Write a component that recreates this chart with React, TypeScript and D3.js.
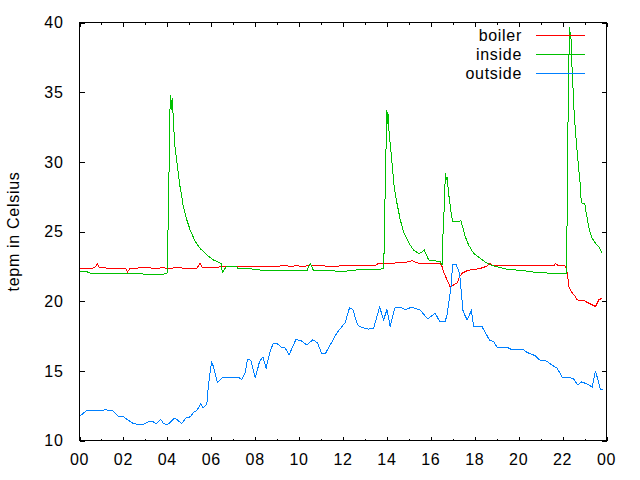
import React from 'react';
import * as d3 from 'd3';

// ---- data (hours of day, temperature in Celsius) ----
const boilerHours = [0, 0.1, 0.6, 0.75, 0.81, 0.9, 1.5, 2.0, 2.1, 2.18, 2.3, 3.0, 3.5, 3.8, 4.0, 4.5, 4.8, 5.35, 5.49, 5.6, 6.25, 6.4, 8.68, 9.44, 9.6, 9.9, 10.2, 10.51, 10.7, 11.0, 11.5, 12.0, 13.47, 13.62, 14.2, 14.9, 15.14, 15.3, 15.44, 16.43, 16.51, 16.58, 16.74, 16.89, 17.04, 17.19, 17.31, 17.42, 17.65, 17.95, 18.18, 18.41, 18.56, 18.68, 18.8, 21.6, 21.67, 21.82, 22.1, 22.17, 22.23, 22.28, 22.43, 22.58, 22.66, 22.96, 23.19, 23.5, 23.65, 23.8];
const boilerTemps = [22.36, 22.33, 22.36, 22.5, 22.72, 22.4, 22.36, 22.33, 22.36, 22.08, 22.36, 22.4, 22.36, 22.4, 22.36, 22.4, 22.36, 22.36, 22.72, 22.4, 22.4, 22.48, 22.48, 22.55, 22.48, 22.55, 22.48, 22.6, 22.55, 22.55, 22.48, 22.55, 22.55, 22.72, 22.72, 22.8, 22.91, 22.8, 22.72, 22.72, 22.48, 22.12, 21.52, 21.0, 21.17, 21.29, 21.76, 22.0, 22.19, 22.29, 22.32, 22.43, 22.53, 22.72, 22.53, 22.53, 22.72, 22.53, 22.53, 22.36, 21.88, 21.05, 20.62, 20.33, 20.09, 20.05, 19.86, 19.62, 20.09, 20.21];

const insideHours = [0, 0.33, 0.5, 3.8, 3.95, 4.0, 4.02, 4.07, 4.1, 4.14, 4.17, 4.2, 4.23, 4.28, 4.35, 4.43, 4.5, 4.58, 4.66, 4.73, 4.89, 5.04, 5.26, 5.49, 5.8, 6.1, 6.36, 6.45, 6.51, 6.68, 7.16, 7.2, 7.77, 8.15, 9.75, 10.35, 10.42, 10.51, 10.66, 11.6, 11.95, 12.2, 12.6, 13.39, 13.85, 13.88, 13.92, 13.97, 14.0, 14.03, 14.06, 14.1, 14.18, 14.26, 14.33, 14.46, 14.61, 14.76, 14.99, 15.21, 15.44, 15.57, 15.7, 15.9, 16.43, 16.51, 16.56, 16.62, 16.66, 16.7, 16.74, 16.81, 16.92, 16.99, 17.27, 17.36, 17.45, 17.57, 17.72, 17.95, 18.25, 18.56, 18.86, 19.47, 20.23, 20.84, 21.6, 22.17, 22.2, 22.23, 22.28, 22.32, 22.36, 22.39, 22.41, 22.46, 22.5, 22.55, 22.6, 22.66, 22.71, 22.77, 22.82, 22.85, 23.01, 23.08, 23.15, 23.24, 23.35, 23.5, 23.65, 23.8];
const insideTemps = [22.17, 22.12, 22.0, 21.93, 22.0, 22.05, 24.15, 28.33, 32.5, 34.77, 34.4, 33.69, 34.6, 32.74, 31.07, 30.1, 29.16, 28.2, 27.49, 26.77, 25.82, 25.1, 24.32, 23.79, 23.31, 22.96, 22.76, 22.7, 22.05, 22.48, 22.48, 22.36, 22.33, 22.24, 22.17, 22.17, 22.4, 22.72, 22.17, 22.17, 22.12, 22.17, 22.24, 22.24, 22.33, 24.15, 27.97, 31.78, 33.74, 32.74, 33.4, 32.02, 30.83, 29.4, 28.2, 27.01, 25.82, 24.98, 24.2, 23.67, 23.43, 23.5, 23.67, 22.96, 22.84, 22.6, 25.1, 27.0, 29.2, 28.7, 28.9, 27.73, 26.42, 25.7, 25.7, 25.8, 25.34, 24.62, 24.03, 23.43, 23.08, 22.72, 22.53, 22.29, 22.19, 22.05, 22.0, 22.0, 24.98, 30.83, 36.67, 39.7, 38.94, 38.8, 37.39, 35.84, 34.29, 32.98, 31.9, 30.83, 29.88, 28.92, 28.09, 27.06, 27.0, 26.29, 25.7, 24.98, 24.51, 24.15, 23.91, 23.48];

const outsideHours = [0, 0.33, 0.9, 1.16, 1.51, 1.77, 2.0, 2.45, 2.83, 3.14, 3.37, 3.49, 3.7, 3.83, 4.0, 4.34, 4.66, 4.85, 5.04, 5.22, 5.34, 5.52, 5.64, 5.8, 5.86, 6.01, 6.1, 6.28, 6.48, 7.28, 7.39, 7.54, 7.65, 7.8, 8.01, 8.2, 8.35, 8.5, 8.68, 8.83, 9.0, 9.21, 9.36, 9.55, 9.85, 10.05, 10.35, 10.63, 10.84, 11.04, 11.2, 11.72, 12.1, 12.3, 12.45, 12.66, 12.86, 13.16, 13.39, 13.67, 13.85, 14.0, 14.15, 14.35, 14.6, 14.84, 15.14, 15.52, 15.85, 16.2, 16.4, 16.65, 16.74, 16.92, 16.99, 17.16, 17.31, 17.47, 17.65, 17.85, 17.95, 18.33, 18.68, 18.86, 19.04, 19.54, 19.69, 20.23, 20.38, 20.76, 20.99, 21.3, 21.48, 21.75, 22.0, 22.28, 22.5, 22.69, 22.86, 23.12, 23.35, 23.5, 23.6, 23.72, 23.85];
const outsideTemps = [11.74, 12.15, 12.15, 12.2, 12.15, 11.74, 11.7, 11.22, 11.12, 11.33, 11.33, 11.19, 11.5, 11.22, 11.12, 11.62, 11.22, 11.62, 11.7, 12.05, 12.15, 12.62, 12.34, 12.62, 13.77, 15.63, 15.32, 14.17, 14.49, 14.49, 14.38, 14.84, 15.8, 15.77, 14.49, 15.68, 16.0, 15.2, 16.39, 16.99, 16.95, 16.68, 16.65, 16.16, 17.23, 17.2, 16.87, 17.23, 17.0, 16.2, 16.25, 17.71, 18.47, 19.54, 19.4, 18.3, 18.1, 18.0, 18.05, 19.57, 18.66, 19.38, 18.18, 19.5, 19.57, 19.4, 19.57, 19.35, 18.73, 19.14, 18.54, 18.54, 19.02, 21.05, 22.6, 22.6, 22.0, 19.26, 18.66, 19.33, 18.18, 18.18, 17.18, 17.1, 16.64, 16.64, 16.51, 16.51, 16.32, 16.08, 15.73, 15.7, 15.44, 15.2, 14.49, 14.55, 14.41, 14.0, 14.2, 14.06, 13.84, 15.01, 14.4, 13.65, 13.7];

const seriesNames = ['boiler', 'inside', 'outside'];
const seriesColors = ['#ff0000', '#00c000', '#0080ff'];

const xTickHours = [0, 2, 4, 6, 8, 10, 12, 14, 16, 18, 20, 22, 24];
const xTickLabels = ['00', '02', '04', '06', '08', '10', '12', '14', '16', '18', '20', '22', '00'];
const xMinorHours = [1, 3, 5, 7, 9, 11, 13, 15, 17, 19, 21, 23];
const yTicks = [10, 15, 20, 25, 30, 35, 40];
const yLabel = 'tepm in Celsius';

const FONT = "'Liberation Sans', Arial, sans-serif";

export default function App() {
  const W = 640, H = 480;
  const L = 79.5, R = 606.5, T = 22.5, B = 440.5;
  const x = d3.scaleLinear().domain([0, 24]).range([L, R]);
  const y = d3.scaleLinear().domain([10, 40]).range([B, T]);

  const data = [
    boilerHours.map((h, i) => [h, boilerTemps[i]] as [number, number]),
    insideHours.map((h, i) => [h, insideTemps[i]] as [number, number]),
    outsideHours.map((h, i) => [h, outsideTemps[i]] as [number, number]),
  ];
  const line = d3.line<[number, number]>().x(d => x(d[0])).y(d => y(d[1]));

  const textStyle: React.CSSProperties = { fontFamily: FONT, fontSize: 16, letterSpacing: 0.7 };

  return (
    <svg width={W} height={H} style={{ position: 'absolute', left: 0, top: 0, background: '#fff' }}>
      <rect x={0} y={0} width={W} height={H} fill="#fff" />
      {/* y ticks (left and mirrored right) */}
      {yTicks.map(v => (
        <g key={'y' + v} stroke="#000" strokeWidth={1} shapeRendering="crispEdges">
          <line x1={L} x2={L + 5} y1={Math.round(y(v)) + 0.5} y2={Math.round(y(v)) + 0.5} />
          <line x1={R} x2={R - 5} y1={Math.round(y(v)) + 0.5} y2={Math.round(y(v)) + 0.5} />
        </g>
      ))}
      {yTicks.map(v => (
        <text key={'yl' + v} x={63.5} y={y(v)} dy="0.36em" textAnchor="end" fill="#000" style={textStyle}>{v}</text>
      ))}
      {/* x ticks */}
      {xTickHours.map(h => (
        <g key={'x' + h} stroke="#000" strokeWidth={1} shapeRendering="crispEdges">
          <line x1={Math.round(x(h)) + 0.5} x2={Math.round(x(h)) + 0.5} y1={B} y2={B - 4} />
          <line x1={Math.round(x(h)) + 0.5} x2={Math.round(x(h)) + 0.5} y1={T} y2={T + 4} />
        </g>
      ))}
      {xMinorHours.map(h => (
        <g key={'xm' + h} stroke="#000" strokeWidth={1} shapeRendering="crispEdges">
          <line x1={Math.round(x(h)) + 0.5} x2={Math.round(x(h)) + 0.5} y1={B} y2={B - 2} />
          <line x1={Math.round(x(h)) + 0.5} x2={Math.round(x(h)) + 0.5} y1={T} y2={T + 2} />
        </g>
      ))}
      {xTickHours.map((h, i) => (
        <text key={'xl' + i} x={x(h)} y={465} textAnchor="middle" fill="#000" style={textStyle}>{xTickLabels[i]}</text>
      ))}
      {/* y axis label */}
      <text transform={`translate(19,${(T + B) / 2}) rotate(-90)`} textAnchor="middle" fill="#000" style={textStyle}>{yLabel}</text>
      {/* data */}
      {data.map((d, i) => (
        <path key={'s' + i} d={line(d) || ''} fill="none" stroke={seriesColors[i]} strokeWidth={1} shapeRendering="crispEdges" />
      ))}
      {/* legend */}
      {seriesNames.map((n, i) => (
        <g key={'lg' + i}>
          <text x={522} y={40.5 + i * 19} textAnchor="end" fill="#000" style={textStyle}>{n}</text>
          <line x1={536} x2={585} y1={35.5 + i * 19} y2={35.5 + i * 19} stroke={seriesColors[i]} strokeWidth={1} shapeRendering="crispEdges" />
        </g>
      ))}
      {/* border */}
      <rect x={L} y={T} width={R - L} height={B - T} fill="none" stroke="#000" strokeWidth={1} shapeRendering="crispEdges" />
    </svg>
  );
}
